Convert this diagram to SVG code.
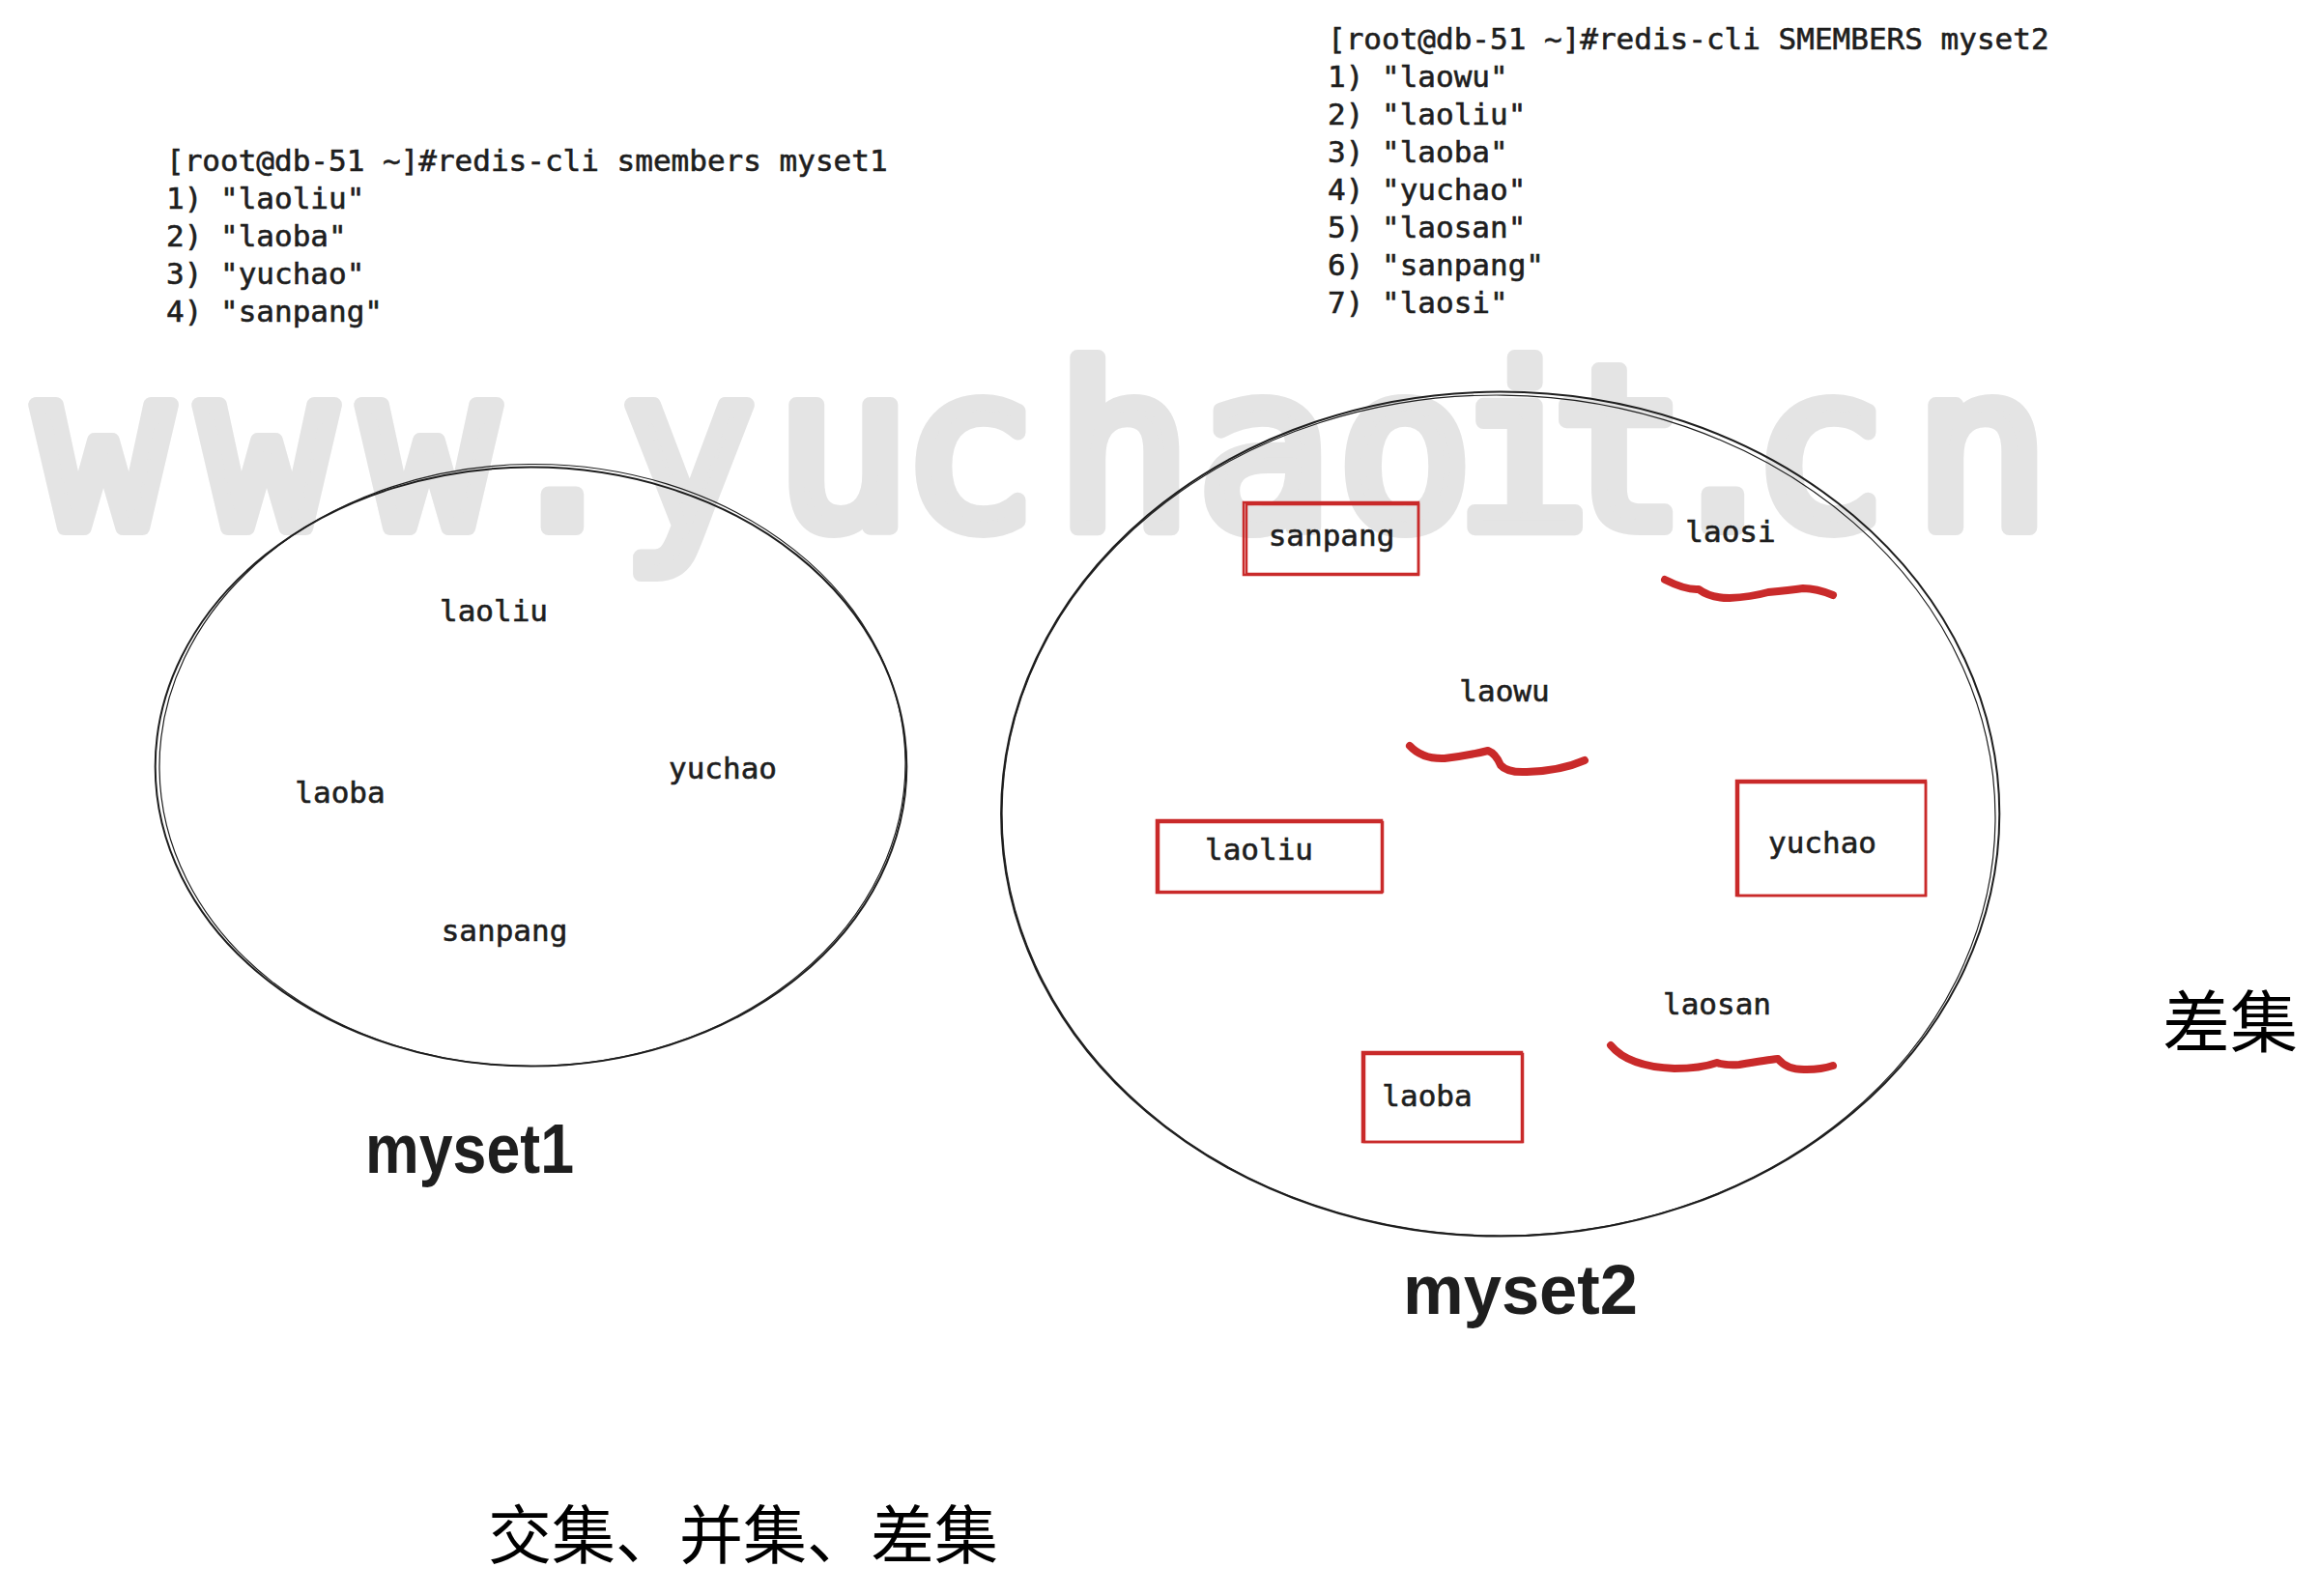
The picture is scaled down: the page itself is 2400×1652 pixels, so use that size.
<svg xmlns="http://www.w3.org/2000/svg" width="2400" height="1652" viewBox="0 0 2400 1652">
<style>
.mono{font-family:"DejaVu Sans Mono","Liberation Mono",monospace;font-size:31px;fill:#1e1e1e;stroke:#1e1e1e;stroke-width:0.6}
.lbl{text-anchor:middle}
.hand{font-family:"Liberation Sans","DejaVu Sans",sans-serif;font-weight:bold;font-size:72px;fill:#1e1e1e}
.cjk{font-family:"Noto Sans CJK SC",sans-serif;fill:#000}
.wm{font-family:"DejaVu Sans Mono",monospace;font-size:232px;fill:#e4e4e4;stroke:#e4e4e4;stroke-width:16;stroke-linejoin:round;stroke-linecap:round;text-anchor:middle}
.set{fill:none;stroke:#1e1e1e}
.box{fill:none;stroke:#c92a2a;stroke-width:2.5}
.sq{fill:none;stroke:#c92a2a;stroke-width:8;stroke-linecap:round;stroke-linejoin:round}
</style>
<rect width="2400" height="1652" fill="#ffffff"/>
<g id="watermark"><text class="wm" x="107 276 444 582 712 872 1003 1163 1309 1454 1576 1676 1783 1883 2051" y="546">www.yuchaoit.cn</text></g>
<g id="cmd1">
<text class="mono" x="172" y="177">[root@db-51 ~]#redis-cli smembers myset1</text>
<text class="mono" x="172" y="216">1) "laoliu"</text>
<text class="mono" x="172" y="255">2) "laoba"</text>
<text class="mono" x="172" y="294">3) "yuchao"</text>
<text class="mono" x="172" y="333">4) "sanpang"</text>
</g>
<g id="cmd2">
<text class="mono" x="1374" y="51">[root@db-51 ~]#redis-cli SMEMBERS myset2</text>
<text class="mono" x="1374" y="90">1) "laowu"</text>
<text class="mono" x="1374" y="129">2) "laoliu"</text>
<text class="mono" x="1374" y="168">3) "laoba"</text>
<text class="mono" x="1374" y="207">4) "yuchao"</text>
<text class="mono" x="1374" y="246">5) "laosan"</text>
<text class="mono" x="1374" y="285">6) "sanpang"</text>
<text class="mono" x="1374" y="324">7) "laosi"</text>
</g>
<g id="myset1">
<ellipse class="set" cx="549.5" cy="793.6" rx="388.8" ry="310" stroke-width="2"/>
<ellipse class="set" cx="551" cy="792" rx="386" ry="311.5" stroke-width="1.2" transform="rotate(-0.6 551 792)"/>
<text class="mono lbl" x="511" y="643">laoliu</text>
<text class="mono lbl" x="352" y="831">laoba</text>
<text class="mono lbl" x="748" y="806">yuchao</text>
<text class="mono lbl" x="522" y="974">sanpang</text>
</g>
<g id="myset2">
<ellipse class="set" cx="1552.7" cy="842.6" rx="516.6" ry="437" stroke-width="2"/>
<ellipse class="set" cx="1551" cy="844" rx="514" ry="435" stroke-width="1.2" transform="rotate(0.7 1551 844)"/>
<text class="mono lbl" x="1378" y="565">sanpang</text>
<text class="mono lbl" x="1791" y="561">laosi</text>
<text class="mono lbl" x="1557" y="726">laowu</text>
<text class="mono lbl" x="1303" y="890">laoliu</text>
<text class="mono lbl" x="1886" y="883">yuchao</text>
<text class="mono lbl" x="1777" y="1050">laosan</text>
<text class="mono lbl" x="1477" y="1145">laoba</text>
</g>
<g id="highlights">
<rect class="box" x="1287" y="520" width="181" height="75"/>
<rect class="box" x="1290" y="522" width="178" height="72" stroke-width="1.5"/>
<rect class="box" x="1197" y="849" width="233" height="75"/>
<rect class="box" x="1199" y="851" width="232" height="72" stroke-width="1.5"/>
<rect class="box" x="1797" y="808" width="196" height="119"/>
<rect class="box" x="1799" y="810" width="194" height="117" stroke-width="1.5"/>
<rect class="box" x="1410" y="1089" width="165" height="93"/>
<rect class="box" x="1412" y="1091" width="164" height="91" stroke-width="1.5"/>
<path class="sq" d="M1723 600 Q1745 611 1758 610 Q1770 619 1790 619 Q1812 618 1830 613 Q1852 611 1866 609 Q1880 609 1897 616"/>
<path class="sq" d="M1459 772 Q1472 786 1495 785 Q1520 782 1540 777 Q1548 780 1553 792 Q1560 800 1580 799 Q1615 798 1640 787"/>
<path class="sq" d="M1667 1082 Q1685 1104 1733 1106 Q1760 1106 1777 1100 Q1786 1103 1800 1102 Q1830 1097 1840 1096 Q1850 1108 1870 1107 Q1885 1107 1897 1103"/>
</g>
<g id="connectors"></g>
<g id="title1"><text class="hand" x="378" y="1214" textLength="216" lengthAdjust="spacingAndGlyphs">myset1</text></g>
<g id="title2"><text class="hand" x="1452" y="1360" textLength="243" lengthAdjust="spacingAndGlyphs">myset2</text></g>
<g id="diff"><text class="cjk" x="2238" y="1084" font-size="70">差集</text></g>
<g id="caption"><text class="cjk" x="505" y="1613" font-size="66">交集、并集、差集</text></g>
</svg>
